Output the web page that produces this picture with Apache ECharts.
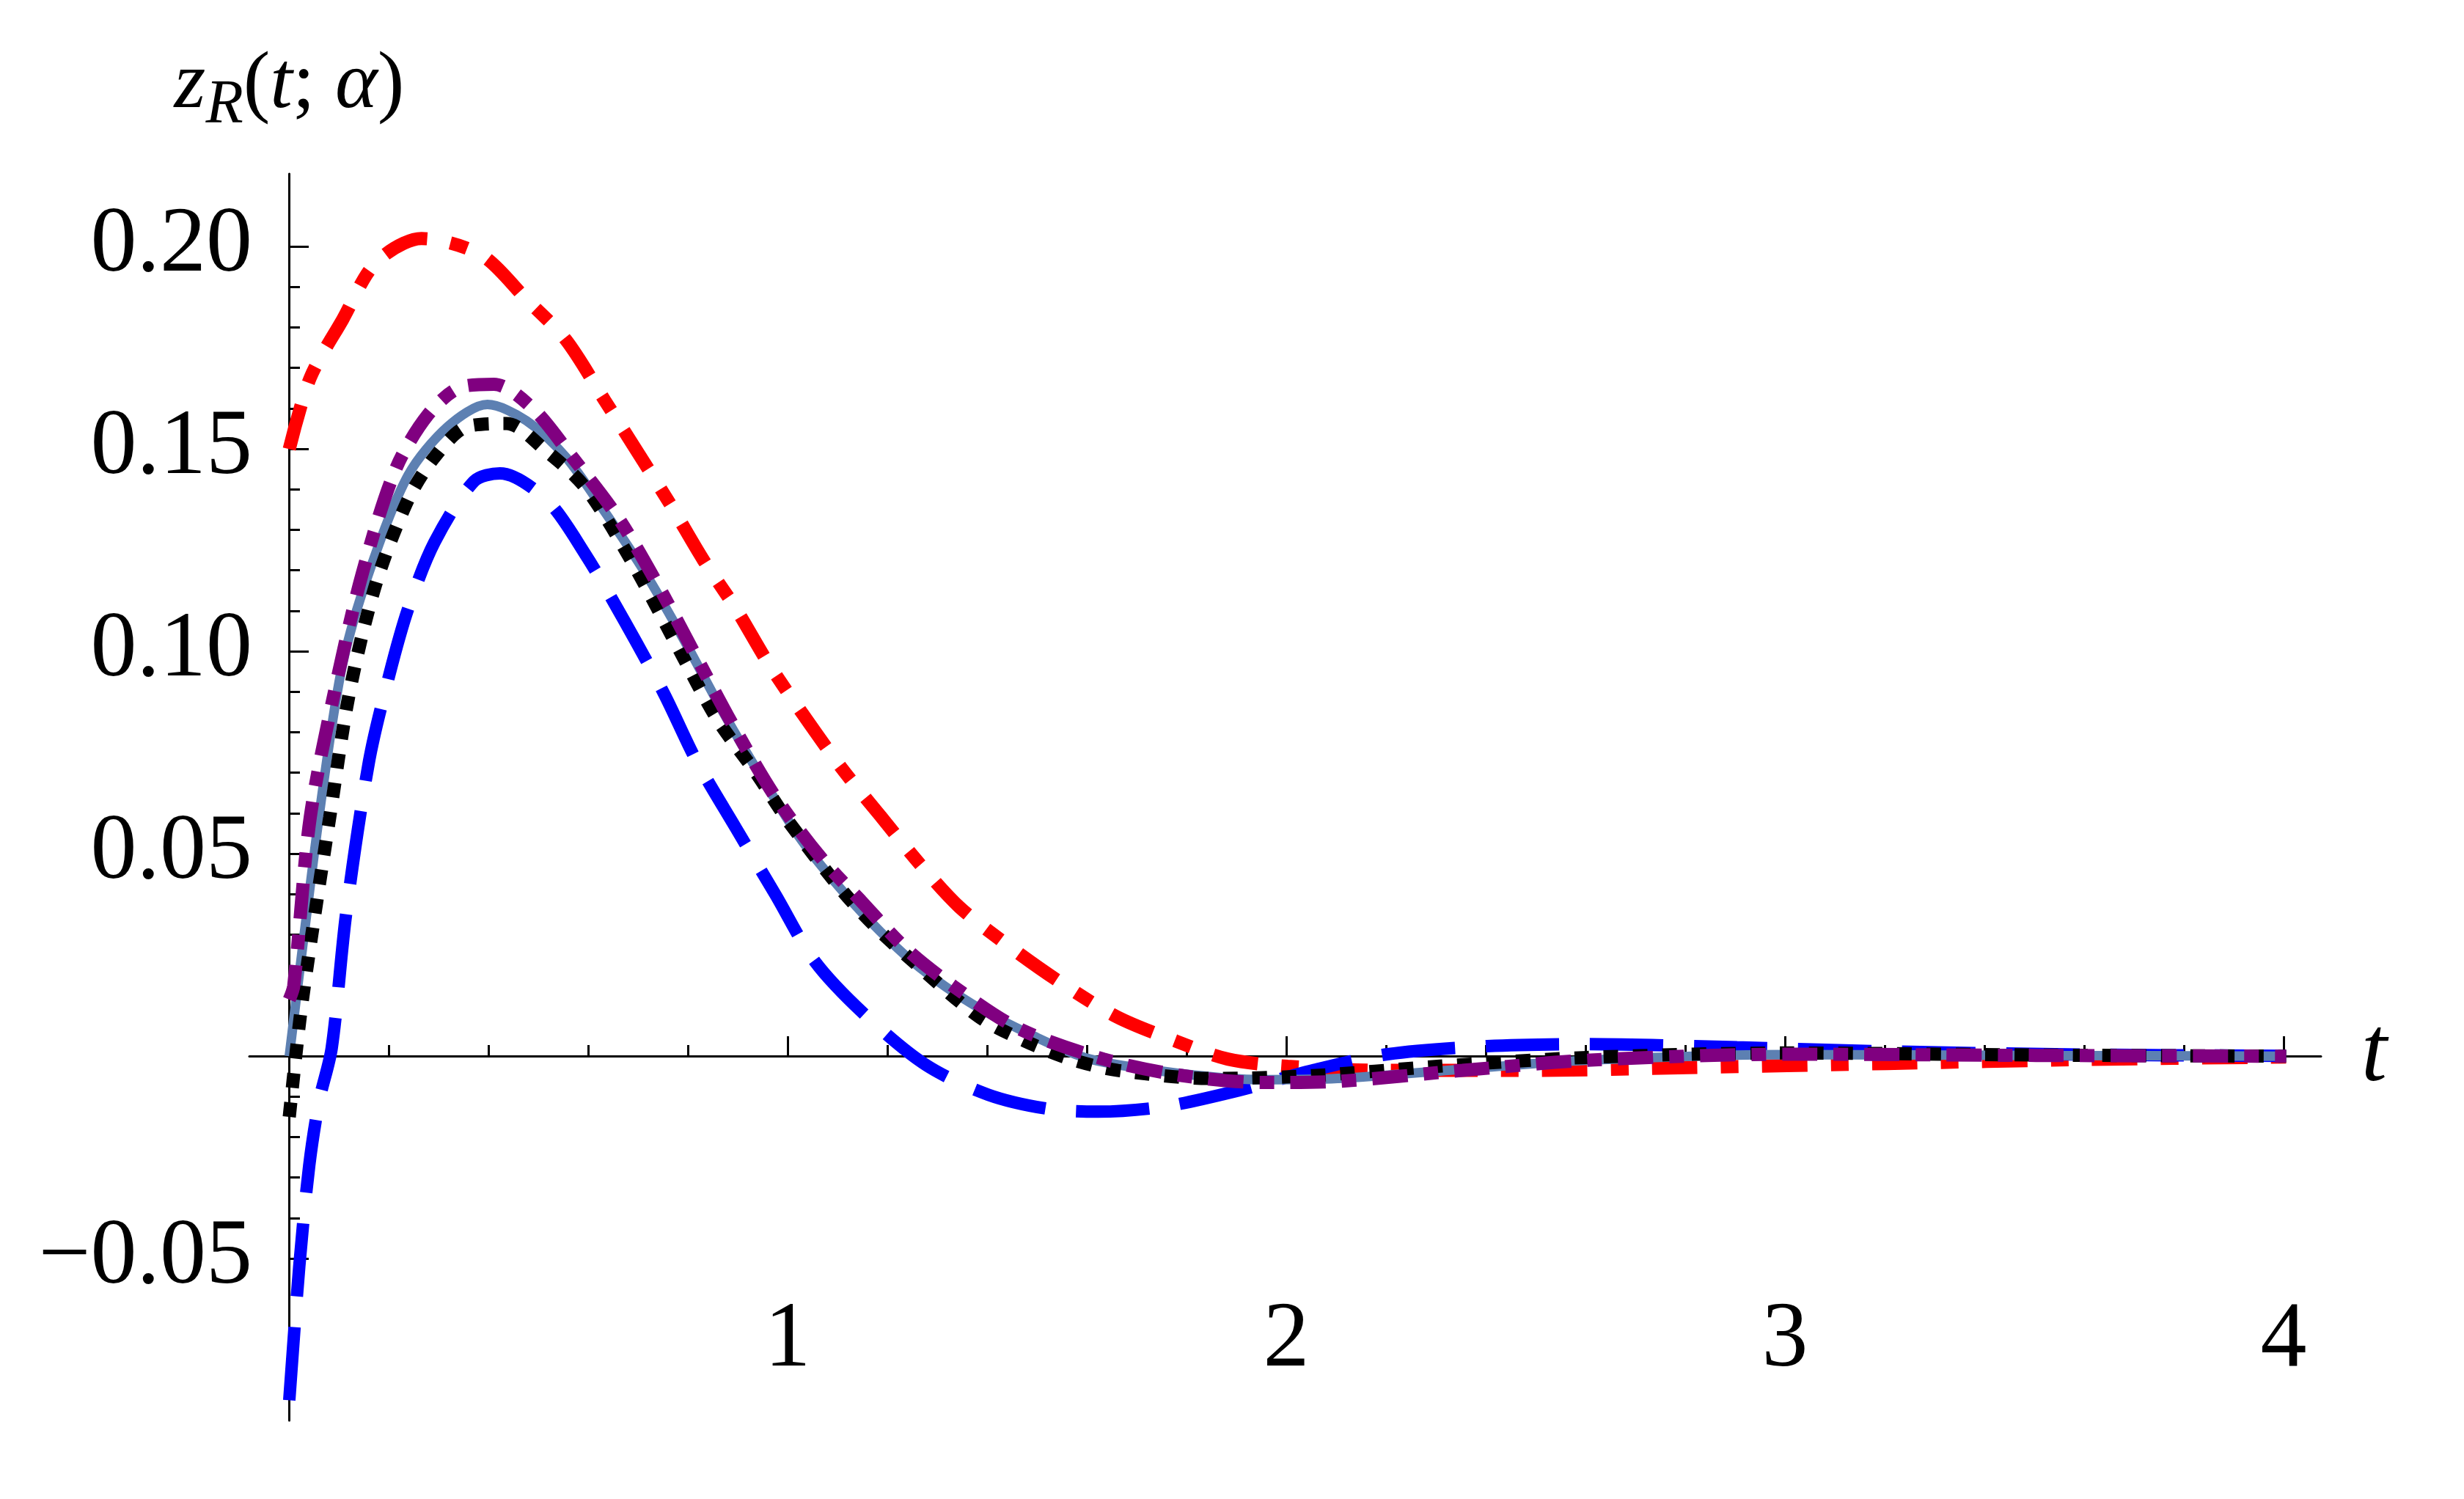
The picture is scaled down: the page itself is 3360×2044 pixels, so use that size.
<!DOCTYPE html>
<html><head><meta charset="utf-8">
<script src="https://cdn.jsdelivr.net/npm/echarts@6/dist/echarts.min.js"></script>
<style>html,body{margin:0;padding:0;background:#fff}#c{width:3360px;height:2044px}</style>
</head><body><div id="c"></div>
<script>
const redT = [0,0.042,0.107,0.173,0.265,0.384,0.475,0.554,0.632,0.699,0.765,0.83,0.895,0.96,1.026,1.105,1.184,1.263,1.342,1.434,1.538,1.657,1.775,1.88,2.0,2.2,2.5,2.8,3.2,3.6,4.0];
const redV = [0.150,0.1676,0.182,0.196,0.202,0.198,0.187,0.177,0.162,0.149,0.136,0.1225,0.1105,0.097,0.085,0.0714,0.0594,0.0475,0.0369,0.0279,0.0188,0.0098,0.0038,-0.0007,-0.0025,-0.0035,-0.0035,-0.0028,-0.0018,-0.0008,-0.0002];
const blueT = [0,0.02,0.04,0.06,0.085,0.114,0.16,0.2,0.238,0.291,0.37,0.422,0.515,0.593,0.672,0.751,0.816,0.895,0.974,1.053,1.157,1.276,1.4,1.52,1.62,1.75,1.9,2.05,2.2,2.4,2.6,2.9,3.2,3.6,4.0];
const blueV = [-0.085,-0.052,-0.027,-0.011,0.002,0.0353,0.073,0.094,0.1105,0.127,0.142,0.144,0.1375,0.124,0.1074,0.0895,0.0729,0.0563,0.0399,0.0234,0.0098,-0.0022,-0.0095,-0.013,-0.0137,-0.0125,-0.0085,-0.0035,0.0005,0.0025,0.003,0.0022,0.0012,0.0004,0.0001];
const purpleT = [0,0.009,0.042,0.094,0.147,0.213,0.278,0.344,0.41,0.488,0.567,0.659,0.738,0.816,0.895,0.974,1.066,1.145,1.237,1.329,1.46,1.631,1.79,1.95,2.1,2.35,2.6,3.0,3.5,4.0];
const purpleV = [0.014,0.0174,0.059,0.092,0.1196,0.145,0.1585,0.1653,0.166,0.160,0.148,0.133,0.1165,0.0985,0.0804,0.064,0.0489,0.0384,0.0264,0.0174,0.0069,-0.0007,-0.0048,-0.0065,-0.0062,-0.0035,-0.001,0.0005,0.0002,0];
const steelT = [0,0.029,0.068,0.107,0.16,0.238,0.318,0.397,0.475,0.554,0.632,0.712,0.79,0.869,0.948,1.026,1.105,1.184,1.263,1.368,1.486,1.604,1.788,1.95,2.1,2.35,2.6,3.0,3.5,4.0];
const steelV = [0,0.0293,0.0668,0.097,0.1196,0.1435,0.1556,0.161,0.157,0.148,0.1345,0.1196,0.103,0.085,0.0685,0.0534,0.0413,0.0308,0.0219,0.0129,0.0053,-0.0007,-0.0043,-0.0058,-0.0055,-0.0032,-0.001,0.0004,0.0002,0];
const blackT = [0,0.022,0.048,0.081,0.12,0.173,0.238,0.291,0.357,0.435,0.515,0.593,0.685,0.777,0.856,0.935,1.0,1.105,1.171,1.25,1.381,1.473,1.565,1.66,1.85,2.05,2.3,2.6,3.0,3.5,4.0];
const blackV = [-0.015,0.0098,0.0324,0.059,0.0895,0.1165,0.1375,0.148,0.1556,0.1563,0.1495,0.1405,0.1225,0.1014,0.0835,0.07,0.058,0.0413,0.0324,0.0234,0.0098,0.0038,-0.0007,-0.0035,-0.0055,-0.0048,-0.0025,-0.0003,0.0008,0.0003,0];
const xTickLabels = ['1','2','3','4'];
const yTickLabels = ['\u22120.05','0.05','0.10','0.15','0.20'];

const zip = (a,b)=>a.map((t,i)=>[t,b[i]]);
const F = 'Liberation Serif';
const chart = echarts.init(document.getElementById('c'));
function line(name,T,V,color,width,type,z){
  return {name,type:'line',xAxisIndex:0,yAxisIndex:0,data:zip(T,V),smooth:0.3,showSymbol:false,z,
    lineStyle:{color,width,type,cap:'butt'}};
}
chart.setOption({
  animation:false,
  grid:[{left:340,right:195,top:237,bottom:107},{left:394,right:246,top:336,bottom:328}],
  xAxis:[
    {type:'value',gridIndex:0,min:-0.08,max:4.07,axisLine:{onZero:true,lineStyle:{color:'#000',width:3}},
     axisTick:{show:false},axisLabel:{show:false},splitLine:{show:false},
     name:'t',nameLocation:'end',nameGap:55,nameTextStyle:{fontFamily:F,fontStyle:'italic',fontSize:126,color:'#000',verticalAlign:'middle',align:'left'}},
    {type:'value',gridIndex:1,min:0,max:4,interval:1,axisLine:{show:false,onZero:true},
     axisTick:{inside:true,length:27,lineStyle:{color:'#000',width:3}},
     minorTick:{show:true,splitNumber:5,length:15,lineStyle:{color:'#000',width:3}},
     splitLine:{show:false},
     axisLabel:{margin:50,fontFamily:F,fontSize:126,color:'#000',formatter:v=>{const i=Math.round(v);return i>=1?xTickLabels[i-1]:'';}}}
  ],
  yAxis:[
    {type:'value',gridIndex:0,min:-0.09,max:0.218,axisLine:{onZero:true,lineStyle:{color:'#000',width:3}},
     axisTick:{show:false},axisLabel:{show:false},splitLine:{show:false},
     name:'{z|z}{R|R}{p|(}{t|t}{p|; }{t|α}{p|)}',nameLocation:'end',nameGap:120,
     nameTextStyle:{align:'center',verticalAlign:'middle',color:'#000',
       rich:{z:{fontFamily:F,fontStyle:'italic',fontSize:110,color:'#000'},
             R:{fontFamily:F,fontStyle:'italic',fontSize:84,color:'#000',padding:[55,0,0,0]},
             p:{fontFamily:F,fontSize:110,color:'#000'},
             t:{fontFamily:F,fontStyle:'italic',fontSize:110,color:'#000'}}}},
    {type:'value',gridIndex:1,min:-0.05,max:0.2,interval:0.05,axisLine:{show:false,onZero:true},
     axisTick:{inside:true,length:27,lineStyle:{color:'#000',width:3}},
     minorTick:{show:true,splitNumber:5,length:15,lineStyle:{color:'#000',width:3}},
     splitLine:{show:false},
     axisLabel:{margin:50,fontFamily:F,fontSize:126,color:'#000',formatter:v=>{const i=Math.round(v/0.05);return i===0?'':yTickLabels[i<0?0:i];}}}
  ],
  series:[
    line('red',redT,redV,'#ff0000',18,[62,32,24,32],2),
    line('blue',blueT,blueV,'#0000ff',17,[100,42],3),
    line('steel',steelT,steelV,'#5d80b2',13,'solid',4),
    line('black',blackT,blackV,'#000000',18,[20,20],5),
    line('purple',purpleT,purpleV,'#800080',18,[48,22,20,22],6)
  ]
});
</script></body></html>
